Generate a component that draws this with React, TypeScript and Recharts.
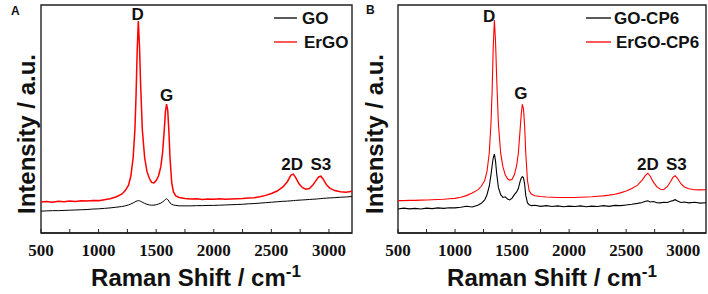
import React from 'react';
import { LineChart, Line, XAxis, YAxis, ReferenceDot, ReferenceArea, Legend } from 'recharts';

// Raman shift grid (cm-1)
const wavenumbers = [
  500, 550, 600, 650, 700, 750, 800, 850, 900, 950,
  1000, 1050, 1100, 1150, 1200, 1230, 1260, 1280, 1300, 1315,
  1325, 1335, 1345, 1355, 1365, 1380, 1400, 1420, 1440, 1460,
  1480, 1500, 1520, 1540, 1555, 1570, 1580, 1590, 1600, 1610,
  1620, 1635, 1650, 1670, 1700, 1750, 1800, 1850, 1900, 1950,
  2000, 2050, 2100, 2150, 2200, 2250, 2300, 2350, 2400, 2450,
  2500, 2550, 2600, 2640, 2670, 2690, 2710, 2740, 2770, 2800,
  2830, 2860, 2890, 2910, 2930, 2950, 2980, 3010, 3050, 3100,
  3150, 3200,
];

// Panel A
const goA = [
  9.6, 9.7, 9.8, 9.8, 9.9, 10.0, 10.1, 10.2, 10.3, 10.5,
  10.6, 10.8, 11.0, 11.3, 11.6, 11.9, 12.3, 12.7, 13.2, 13.6,
  13.9, 14.1, 14.2, 14.1, 13.9, 13.5, 13.0, 12.6, 12.3, 12.2,
  12.2, 12.4, 12.7, 13.1, 13.6, 14.2, 14.7, 15.0, 14.7, 14.0,
  13.2, 12.6, 12.3, 12.1, 11.9, 11.9, 11.9, 12.0, 12.0, 12.1,
  12.1, 12.2, 12.3, 12.4, 12.5, 12.6, 12.8, 12.9, 13.1, 13.3,
  13.5, 13.7, 13.9, 14.0, 14.1, 14.2, 14.3, 14.4, 14.5, 14.6,
  14.7, 14.8, 14.9, 15.0, 15.1, 15.2, 15.3, 15.4, 15.5, 15.7,
  15.8, 16.0,
];
const ergoA = [
  13.6, 13.8, 13.5, 13.9, 13.7, 14.0, 13.8, 14.1, 14.0, 14.3,
  14.2, 14.6, 15.0, 15.8, 17.0, 18.5, 21.0, 25.0, 33.0, 45.0,
  60.0, 80.0, 93.0, 82.0, 65.0, 45.0, 33.0, 27.0, 24.0, 22.2,
  22.0, 23.0, 25.0, 29.0, 35.0, 45.0, 53.0, 56.5, 54.0, 45.0,
  33.0, 22.0, 18.0, 16.3, 15.6, 15.1, 14.9, 15.0, 14.7, 14.9,
  14.8, 15.0, 14.8, 14.9, 15.0, 15.1, 15.3, 15.5, 15.9, 16.5,
  17.3, 18.4, 20.2, 22.6, 25.4, 25.8, 24.4, 21.6, 19.9, 19.2,
  19.5, 21.0, 23.2, 24.6, 24.9, 23.6, 21.0, 19.6, 18.6, 18.1,
  17.9, 18.3,
];

// Panel B
const goCP6 = [
  10.5, 10.9, 10.6, 10.8, 10.5, 10.9, 10.7, 11.0, 10.8, 11.1,
  11.0, 11.3, 11.7, 11.4, 12.2, 13.0, 14.5, 16.8, 20.5, 25.5,
  29.5, 33.0, 34.6, 31.5, 26.0, 20.0, 16.8, 15.6, 15.9, 14.9,
  14.5, 15.3, 16.8, 18.0, 19.5, 22.5, 24.0, 24.7, 24.2, 21.5,
  16.5, 13.2, 12.4, 12.0, 12.2, 11.7, 12.0, 11.6, 11.9, 11.5,
  11.8, 11.6, 11.9, 11.5, 11.8, 11.6, 12.0, 11.7, 12.1, 12.0,
  12.3, 12.6, 13.0, 13.4, 13.9, 14.1, 13.6, 13.8, 13.3, 13.2,
  13.5, 13.4, 13.9, 14.2, 14.6, 14.0, 13.4, 13.6, 13.2, 13.5,
  13.1, 13.3,
];
const ergoCP6 = [
  14.2, 14.2, 14.3, 14.3, 14.4, 14.5, 14.6, 14.7, 14.8, 15.0,
  15.2, 15.7, 16.4, 17.5, 18.9, 20.5, 23.0, 27.0, 35.0, 48.0,
  62.0, 82.0, 93.4, 84.0, 68.0, 48.0, 35.0, 29.0, 25.5, 23.8,
  23.2, 23.6, 25.5, 29.5, 35.0, 45.0, 52.0, 56.4, 54.5, 47.0,
  35.0, 23.0, 18.5, 17.0, 16.3, 16.0, 15.8, 15.7, 15.6, 15.6,
  15.6, 15.6, 15.7, 15.8, 15.9, 16.1, 16.3, 16.6, 17.0, 17.6,
  18.4, 19.5, 21.0, 23.2, 25.3, 26.2, 25.0, 22.2, 20.2, 19.2,
  19.1, 20.3, 22.6, 24.4, 25.1, 24.0, 21.6, 20.2, 19.4, 19.0,
  18.9, 19.0,
];

const xTicks = [500, 750, 1000, 1250, 1500, 1750, 2000, 2250, 2500, 2750, 3000];
const peakNames = ['D', 'G', '2D', 'S3'];
const peakXA = [1340, 1591, 2681, 2930];
const peakYA = [93.4, 57.9, 27.6, 27.6];
const peakXB = [1300, 1576, 2690, 2940];
const peakYB = [92.5, 58.6, 27.6, 27.6];
const seriesNamesA = ['GO', 'ErGO'];
const seriesNamesB = ['GO-CP6', 'ErGO-CP6'];

const dataA = wavenumbers.map((x, i) => ({ x, go: goA[i], ergo: ergoA[i] }));
const dataB = wavenumbers.map((x, i) => ({ x, go: goCP6[i], ergo: ergoCP6[i] }));

const SANS = "'Liberation Sans', Arial, Helvetica, sans-serif";
const SERIF = "'Liberation Serif', 'Times New Roman', Times, serif";

const tickFormatter = (v: number) => (v % 500 === 0 ? String(v) : '');

const makeLegend = (names: string[], lineX1: number, lineX2: number, textX: number) => (props: any) => {
  const items = (props.payload || []).slice().sort(
    (a: any, b: any) => names.indexOf(a.value) - names.indexOf(b.value)
  );
  const rows = [13, 37];
  return (
    <svg width={150} height={55} style={{ overflow: 'visible' }}>
      {items.map((it: any, i: number) => (
        <g key={i}>
          <line x1={lineX1} x2={lineX2} y1={rows[i]} y2={rows[i]} stroke={it.color} strokeWidth={1.3} />
          <text
            x={textX + (i === 1 ? 2 : 0)}
            y={rows[i] + 6}
            fill="#111"
            style={{ fontFamily: SANS, fontWeight: 700, fontSize: 17 }}
          >
            {it.value}
          </text>
        </g>
      ))}
    </svg>
  );
};

function Panel(props: any) {
  const { data, left, names, peakX, peakY, legendLeft, legendFn, redWidth, blackWidth } = props;
  return (
    <LineChart width={354} height={294} data={data} margin={{ top: 5, right: 2, bottom: 31, left }}>
      <ReferenceArea x1={500} x2={3200} y1={0} y2={100} fill="none" stroke="#222" strokeWidth={1.4} ifOverflow="visible" />
      <XAxis
        type="number"
        dataKey="x"
        domain={[500, 3200]}
        ticks={xTicks}
        interval={0}
        height={30}
        tickSize={-4}
        tickMargin={15}
        tickLine={{ stroke: '#222' }}
        axisLine={{ stroke: '#222', strokeWidth: 1.4 }}
        tickFormatter={tickFormatter}
        tick={{ fill: '#111', fontFamily: SERIF, fontWeight: 700, fontSize: 17 }}
      />
      <YAxis type="number" domain={[0, 100]} width={0} tick={false} tickLine={false} axisLine={false} />
      <Line dataKey="go" name={names[0]} stroke="#000" strokeWidth={blackWidth} dot={false} isAnimationActive={false} />
      <Line dataKey="ergo" name={names[1]} stroke="#ff0000" strokeWidth={redWidth} dot={false} isAnimationActive={false} />
      {peakNames.map((p, i) => (
        <ReferenceDot
          key={p}
          x={peakX[i]}
          y={peakY[i]}
          r={0}
          fill="none"
          stroke="none"
          label={{ value: p, position: 'top', offset: 0, fontFamily: SANS, fontWeight: 'bold', fontSize: 17, fill: '#111' }}
        />
      ))}
      <Legend
        layout="vertical"
        align="center"
        verticalAlign="middle"
        content={legendFn}
        wrapperStyle={{ left: legendLeft, top: 5, width: 150, height: 55 }}
      />
    </LineChart>
  );
}

export default function App() {
  return (
    <div style={{ position: 'absolute', left: 0, top: 0, width: 708, height: 294, background: '#fff', overflow: 'hidden' }}>
      <div style={{ position: 'absolute', left: 0, top: 0 }}>
        <Panel
          data={dataA}
          left={41}
          names={seriesNamesA}
          peakX={peakXA}
          peakY={peakYA}
          legendLeft={272}
          legendFn={makeLegend(seriesNamesA, 2, 25, 30)}
          redWidth={1.5}
          blackWidth={1}
        />
      </div>
      <div style={{ position: 'absolute', left: 354, top: 0 }}>
        <Panel
          data={dataB}
          left={44}
          names={seriesNamesB}
          peakX={peakXB}
          peakY={peakYB}
          legendLeft={230}
          legendFn={makeLegend(seriesNamesB, 2, 27, 30)}
          redWidth={1.1}
          blackWidth={1.1}
        />
      </div>
      <svg width={708} height={294} style={{ position: 'absolute', left: 0, top: 0, pointerEvents: 'none' }}>
        <text x={11} y={15} fill="#111" style={{ fontFamily: SANS, fontWeight: 700, fontSize: 12 }}>A</text>
        <text x={366} y={14} fill="#111" style={{ fontFamily: SANS, fontWeight: 700, fontSize: 12 }}>B</text>
        <text transform="translate(35,134) rotate(-90)" textAnchor="middle" fill="#111" style={{ fontFamily: SANS, fontWeight: 700, fontSize: 24 }}>
          Intensity / a.u.
        </text>
        <text transform="translate(383,134) rotate(-90)" textAnchor="middle" fill="#111" style={{ fontFamily: SANS, fontWeight: 700, fontSize: 24 }}>
          Intensity / a.u.
        </text>
        <text x={196} y={286} textAnchor="middle" fill="#111" style={{ fontFamily: SANS, fontWeight: 700, fontSize: 24 }}>
          Raman Shift / cm<tspan style={{ fontSize: 17 }} dy={-9}>-1</tspan>
        </text>
        <text x={552} y={286} textAnchor="middle" fill="#111" style={{ fontFamily: SANS, fontWeight: 700, fontSize: 24 }}>
          Raman Shift / cm<tspan style={{ fontSize: 17 }} dy={-9}>-1</tspan>
        </text>
      </svg>
    </div>
  );
}
